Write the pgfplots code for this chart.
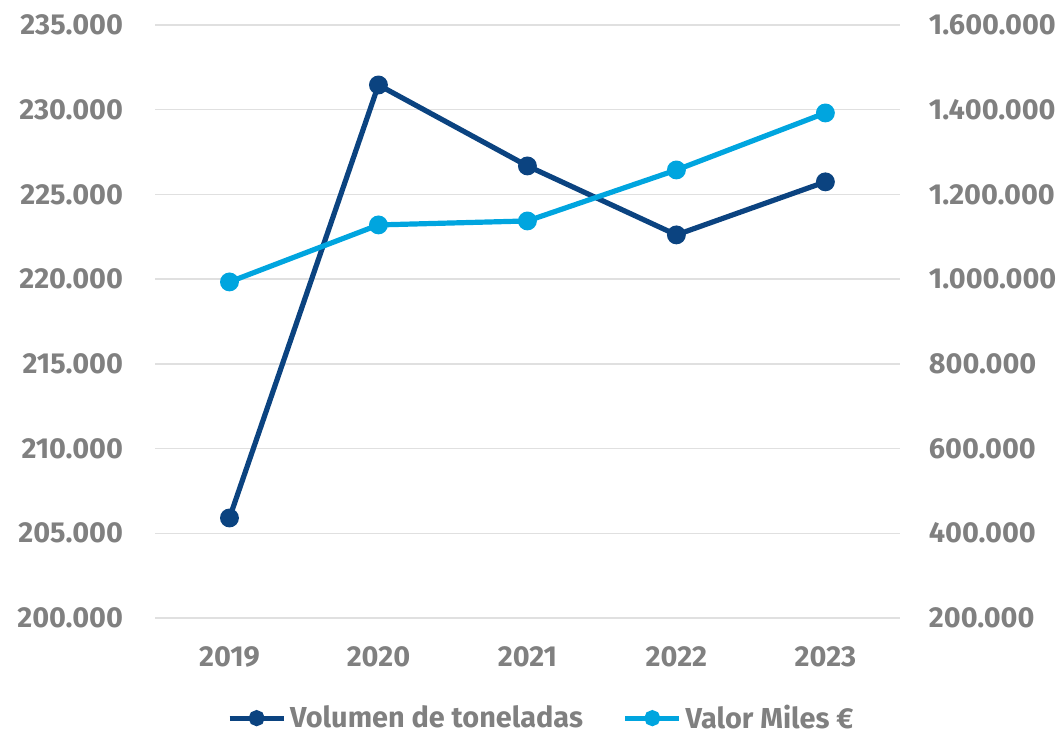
\documentclass[border=0pt]{standalone}
\usepackage{pgfplots}
\pgfplotsset{compat=1.18}
\usepackage{fontspec}
\setmainfont{Fira Sans}

\definecolor{navy}{HTML}{0B4380}
\definecolor{sky}{HTML}{00A5DF}
\definecolor{txt}{HTML}{808080}
\definecolor{gridc}{HTML}{E0E0E0}

\pgfplotsset{
  common/.style={
    width=372.5bp, height=296.5bp, scale only axis,
    xmin=-0.5, xmax=4.5,
    axis line style={draw=none},
    major tick length=0pt,
    scaled ticks=false,
    /pgf/number format/assume math mode=true,
    /pgf/number format/1000 sep={.},
    /pgf/number format/fixed,
    tick label style={font=\fontsize{14.5}{16}\selectfont\bfseries, text=txt},
    every axis plot/.append style={line width=2.6bp, mark=*, mark size=3.4bp},
  }
}

\begin{document}
\begin{tikzpicture}
\begin{axis}[common, name=ax,
    ymin=200000, ymax=235000, ytick distance=5000,
    axis y line*=left, axis x line*=bottom,
    xtick={0,1,2,3,4},
    xticklabels={2019,2020,2021,2022,2023},
    xticklabel style={yshift=-11bp},
    ymajorgrids, grid style={gridc, line width=0.7bp},
    yticklabel style={xshift=-12.5bp},
    clip=false]
  \addplot[navy, mark options={fill=navy}] coordinates {
    (0,205900) (1,231460) (2,226680) (3,222610) (4,225740)};
\end{axis}
\begin{axis}[common,
    ymin=200000, ymax=1600000, ytick distance=200000,
    axis y line*=right, xtick=\empty,
    yticklabel style={xshift=11bp},
    legend style={at={(0.52,-0.169)}, anchor=center, draw=none,
      font=\fontsize{14.5}{16}\selectfont\bfseries, text=txt,
      /tikz/every even column/.append style={column sep=18bp}},
    legend columns=2,
    legend image code/.code={
      \draw[#1, mark=none, line width=2.4bp] (0bp,0bp) -- (27bp,0bp);
      \fill[#1] (13.5bp,0bp) circle (2.7bp);}]
  \addlegendimage{navy}
  \addlegendentry{Volumen de toneladas}
  \addplot[sky, mark options={fill=sky}] coordinates {
    (0,993300) (1,1127900) (2,1137300) (3,1257700) (4,1392300)};
  \addlegendentry{Valor Miles €}
\end{axis}
\path (ax.south west) ++(-77.5bp,-56.5bp) (ax.north east) ++(81.5bp,12.5bp);
\end{tikzpicture}
\end{document}
